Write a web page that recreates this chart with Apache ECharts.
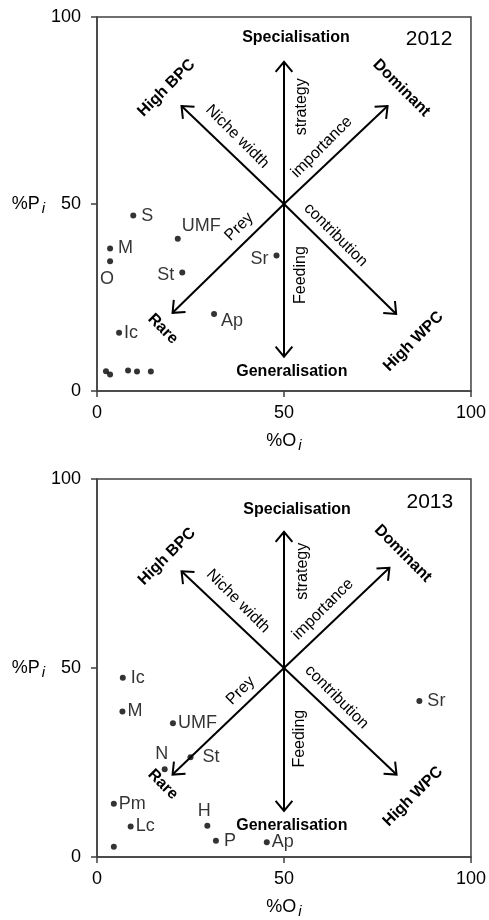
<!DOCTYPE html>
<html>
<head>
<meta charset="utf-8">
<script src="https://cdn.jsdelivr.net/npm/echarts@6/dist/echarts.min.js"></script>
<style>
  html, body { margin: 0; padding: 0; background: #fff; }
  #chart { width: 489px; height: 920px; }
</style>
</head>
<body>
<div id="chart"></div>
<script>
const FONT = '"Liberation Sans", Arial, sans-serif'
const INK = '#000'
const AXIS = '#404040'

// 2012: %O (occurrence) vs %P (prey-specific abundance)
const names2012 = ['S', 'UMF', 'M', 'O', 'St', 'Sr', 'Ap', 'Ic', '', '', '', '', '']
const occ2012 = [9.7, 21.6, 3.5, 3.5, 22.8, 48.0, 31.3, 5.9, 2.4, 3.5, 8.3, 10.7, 14.4]
const abund2012 = [46.9, 40.7, 38.1, 34.7, 31.7, 36.2, 20.6, 15.6, 5.3, 4.4, 5.5, 5.2, 5.2]
const side2012 = ['right', 'topRight', 'right', 'below', 'left', 'left', 'lowRight', 'near', '', '', '', '', '']

// 2013
const names2013 = ['Ic', 'M', 'UMF', 'St', 'N', 'Pm', 'Lc', '', 'H', 'P', 'Ap', 'Sr']
const occ2013 = [6.9, 6.8, 20.3, 25.0, 18.1, 4.5, 9.0, 4.5, 29.5, 31.8, 45.4, 86.2]
const abund2013 = [47.4, 38.5, 35.4, 26.4, 23.2, 14.1, 8.1, 2.7, 8.3, 4.3, 3.9, 41.3]
const side2013 = ['right', 'near', 'near', 'far', 'above', 'near', 'near', '', 'above', 'right', 'near', 'right']

const axisMin = 0
const axisMax = 100
const tickStep = 50

// interpretation arrows: all start at the centre of the plot
const arrowFrom = [50, 50]
const arrowTips2012 = [[50, 88], [50, 9.2], [22.6, 76.2], [77.7, 76.2], [20.2, 20.9], [80, 20.6]]
const arrowTips2013 = [[50, 86], [50, 12.2], [22.6, 75.6], [78.2, 76.5], [20.2, 21.8], [80.1, 21.8]]

const annoText = ['Specialisation', 'Generalisation', 'High BPC', 'Dominant', 'Rare', 'High WPC',
  'Niche width', 'strategy', 'importance', 'contribution', 'Feeding', 'Prey']
const annoAt2012 = [[53.2, 94.4], [52.1, 5.2], [18.6, 81], [81.4, 81], [17.6, 16.6], [84.6, 13.2],
  [37.5, 68], [54.8, 76], [60.1, 65.2], [63.8, 41.7], [54.5, 31], [38, 43.9]]
const annoAt2013 = [[53.5, 92], [52.1, 8.4], [18.7, 79.5], [81.8, 80.3], [17.6, 19.2], [84.5, 16],
  [37.7, 67.7], [55, 75.6], [60.4, 65.5], [64.1, 42.3], [54.3, 31.3], [38.4, 44]]
const annoAngle = [0, 0, 45, -45, -45, 45, -45, 90, 45, -45, 90, 45]
const annoBold = [1, 1, 1, 1, 1, 1, 0, 0, 0, 0, 0, 0]

const years = ['2012', '2013']
const yearAt = [[88.8, 94], [89, 93.8]]

const labelPlacement = {
  right: { position: 'right', distance: 5 },
  near: { position: 'right', distance: 2 },
  far: { position: 'right', distance: 9 },
  left: { position: 'left', distance: 5, offset: [0, 3] },
  topRight: { position: 'right', distance: 1, offset: [0, -13] },
  below: { position: 'bottom', distance: 6, offset: [-3, 0] },
  lowRight: { position: 'right', distance: 4, offset: [0, 7] },
  above: { position: 'top', distance: 3, offset: [-3, 0] },
}

const subRich = { i: { fontSize: 15, fontStyle: 'italic', fontFamily: FONT, color: INK, padding: [9, 0, 0, 2] } }

function axisPair(idx) {
  const common = {
    gridIndex: idx, type: 'value', min: axisMin, max: axisMax, interval: tickStep,
    splitLine: { show: false },
    axisLine: { lineStyle: { color: AXIS, width: 1.5 } },
    axisTick: { inside: false, length: 6, lineStyle: { color: AXIS, width: 1.5 } },
  }
  return {
    x: {
      ...common, position: 'bottom',
      axisLabel: { fontSize: 18, fontFamily: FONT, color: INK, margin: 13 },
      name: '%O{i|i}', nameLocation: 'middle', nameGap: 38,
      nameTextStyle: { fontSize: 18, fontFamily: FONT, color: INK, rich: subRich },
    },
    y: {
      ...common, position: 'left',
      axisLabel: { fontSize: 18, fontFamily: FONT, color: INK, margin: 16 },
      name: '%P{i|i}', nameLocation: 'middle', nameGap: 52, nameRotate: 0,
      nameTextStyle: { fontSize: 18, fontFamily: FONT, color: INK, rich: subRich },
    },
  }
}

function pointSeries(idx, names, xs, ys, sides) {
  return {
    type: 'scatter', xAxisIndex: idx, yAxisIndex: idx, z: 6,
    symbolSize: 6,
    itemStyle: { color: INK },
    label: { show: true, formatter: '{b}', fontSize: 18, fontFamily: FONT, color: INK },
    data: xs.map((x, i) => ({
      name: names[i],
      value: [x, ys[i]],
      label: labelPlacement[sides[i]] || { show: false },
    })),
  }
}

function arrowSeries(idx, tips) {
  return {
    type: 'custom', xAxisIndex: idx, yAxisIndex: idx, silent: true, z: 4,
    encode: { x: [0, 2], y: [1, 3] },
    data: tips.map(t => [arrowFrom[0], arrowFrom[1], t[0], t[1]]),
    renderItem(params, api) {
      const a = api.coord([api.value(0), api.value(1)])
      const b = api.coord([api.value(2), api.value(3)])
      const ang = Math.atan2(b[1] - a[1], b[0] - a[0])
      const L = 13
      const spread = 0.7
      const h1 = [b[0] - L * Math.cos(ang - spread), b[1] - L * Math.sin(ang - spread)]
      const h2 = [b[0] - L * Math.cos(ang + spread), b[1] - L * Math.sin(ang + spread)]
      return {
        type: 'group',
        children: [
          { type: 'line', shape: { x1: a[0], y1: a[1], x2: b[0], y2: b[1] }, style: { stroke: INK, lineWidth: 2 } },
          { type: 'polyline', shape: { points: [h1, b, h2] }, style: { stroke: INK, lineWidth: 2, fill: null } },
        ],
      }
    },
  }
}

function textSeries(idx, at, year, yearPos) {
  const data = at.map((p, i) => [p[0], p[1], i])
  data.push([yearPos[0], yearPos[1], -1])
  return {
    type: 'custom', xAxisIndex: idx, yAxisIndex: idx, silent: true, z: 5,
    data,
    renderItem(params, api) {
      const i = api.value(2)
      const pt = api.coord([api.value(0), api.value(1)])
      if (i < 0) {
        return {
          type: 'text', x: pt[0], y: pt[1],
          style: { text: year, font: '21px ' + FONT, fill: INK, align: 'center', verticalAlign: 'middle' },
        }
      }
      return {
        type: 'text', x: pt[0], y: pt[1],
        rotation: annoAngle[i] * Math.PI / 180,
        style: {
          text: annoText[i],
          font: (annoBold[i] ? 'bold ' : '') + '16px ' + FONT,
          fill: INK, align: 'center', verticalAlign: 'middle',
        },
      }
    },
  }
}

const a0 = axisPair(0)
const a1 = axisPair(1)

const chart = echarts.init(document.getElementById('chart'))
chart.setOption({
  animation: false,
  backgroundColor: '#fff',
  grid: [
    { left: 97, top: 17, width: 376, height: 374, show: true, borderColor: AXIS, borderWidth: 1.5 },
    { left: 97, top: 479, width: 374, height: 380, show: true, borderColor: AXIS, borderWidth: 1.5 },
  ],
  xAxis: [a0.x, a1.x],
  yAxis: [a0.y, a1.y],
  series: [
    arrowSeries(0, arrowTips2012),
    arrowSeries(1, arrowTips2013),
    textSeries(0, annoAt2012, years[0], yearAt[0]),
    textSeries(1, annoAt2013, years[1], yearAt[1]),
    pointSeries(0, names2012, occ2012, abund2012, side2012),
    pointSeries(1, names2013, occ2013, abund2013, side2013),
  ],
})
</script>
</body>
</html>
